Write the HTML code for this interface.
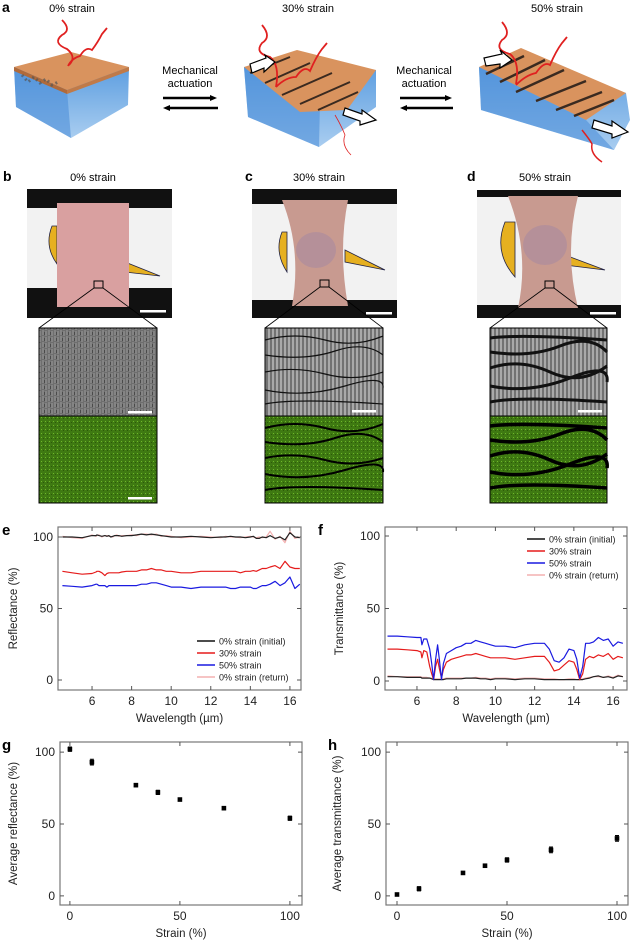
<!DOCTYPE html>
<html><head><meta charset="utf-8"><style>
html,body{margin:0;padding:0;background:#fff;}
svg{display:block;font-family:"Liberation Sans",Arial,sans-serif;}
</style></head><body>
<svg id="fig" width="630" height="940" viewBox="0 0 630 940">
<defs>
<pattern id="sem0" width="6" height="6" patternUnits="userSpaceOnUse"><rect width="6" height="6" fill="#6e6e6e"/><path d="M1 0v5M4 1v5" stroke="#9a9a9a" stroke-width="1"/><path d="M2.5 2v3" stroke="#4a4a4a"/></pattern>
<pattern id="semc" width="4" height="8" patternUnits="userSpaceOnUse"><rect width="4" height="8" fill="#8a8a8a"/><path d="M1 0v8" stroke="#c8c8c8" stroke-width="1"/><path d="M3 0v8" stroke="#5a5a5a" stroke-width="1"/></pattern>
<pattern id="eds" width="4" height="4" patternUnits="userSpaceOnUse"><rect width="4" height="4" fill="#3f7a12"/><rect x="1" y="1" width="1" height="1" fill="#6fb82a"/><rect x="3" y="2" width="1" height="1" fill="#2c5a08"/></pattern>
<linearGradient id="blue" x1="0" y1="0" x2="0" y2="1"><stop offset="0" stop-color="#5d9ee0"/><stop offset="1" stop-color="#a9cdf0"/></linearGradient>
</defs>

<!-- Panel a -->
<g>
<text x="2" y="12" font-size="14" font-weight="bold">a</text>
<text x="72" y="12" font-size="11" text-anchor="middle">0% strain</text>
<text x="308" y="12" font-size="11" text-anchor="middle">30% strain</text>
<text x="557" y="12" font-size="11" text-anchor="middle">50% strain</text>
<g>
<polygon points="14,67 129,67 128,105 71,138 16,107" fill="url(#blue)"/>
<polygon points="14,67 67,90 71,138 16,107" fill="#4f8fd8" opacity="0.6"/>
<polygon points="14,67 71,52 129,67 67,90" fill="#d9935e"/>
<polygon points="14,67 67,90 67,94 14,71" fill="#b06a3a"/><polygon points="67,90 129,67 129,71 67,94" fill="#c07a48"/>
<path d="M22 75 l6 7 l6 -5 l6 6 l6 -4 l6 6 l6 -3" stroke="#555" stroke-width="3" fill="none" stroke-dasharray="2 3" opacity="0.7"/>
<path d="M62 20 q10 10 0 15 q-10 8 5 14 q10 8 2 16 M68 66 q4 -8 12 -10 q6 -10 12 -6 q6 -8 10 -16 l5 -6" stroke="#e02020" stroke-width="1.8" fill="none"/>
</g>
<g>
<text x="190" y="74" font-size="11" text-anchor="middle">Mechanical</text>
<text x="190" y="87" font-size="11" text-anchor="middle">actuation</text>
<path d="M163 98h50" stroke="#000" stroke-width="2.5"/><path d="M217 98l-7 -3v6z" fill="#000"/>
<path d="M168 108h50" stroke="#000" stroke-width="2.5"/><path d="M163 108l7 -3v6z" fill="#000"/>
</g>
<g>
<polygon points="244,67 376,70 376,107 319,147 248,117" fill="url(#blue)"/>
<polygon points="244,67 320,100 319,147 248,117" fill="#4f8fd8" opacity="0.6"/>
<polygon points="244,67 297,50 376,70 347,110 300,112" fill="#d9935e"/>
<path d="M250 73 l40 -16 M265 83 l45 -20 M282 95 l50 -22 M300 104 l50 -22 M318 110 l40 -18" stroke="#3a2a20" stroke-width="2"/>
<path d="M262 25 q10 12 0 18 q-8 10 8 14 q10 8 6 30 M276 87 q10 -10 20 -10 q8 -12 14 -6 q6 -14 12 -22 l5 -6" stroke="#e02020" stroke-width="1.8" fill="none"/>
<polygon points="250,64 266,58 265,55 275,62 264,72 264,68 252,73" fill="#fff" stroke="#000" stroke-width="1.2"/>
<polygon points="345,108 362,114 362,110 376,120 360,125 360,121 343,115" fill="#fff" stroke="#000" stroke-width="1.2"/>
<path d="M335 115 q6 10 10 20 q-4 10 6 20" stroke="#e02020" stroke-width="0.8" fill="none"/>
</g>
<g>
<text x="424" y="74" font-size="11" text-anchor="middle">Mechanical</text>
<text x="424" y="87" font-size="11" text-anchor="middle">actuation</text>
<path d="M400 98h48" stroke="#000" stroke-width="2.5"/><path d="M452 98l-7 -3v6z" fill="#000"/>
<path d="M405 108h48" stroke="#000" stroke-width="2.5"/><path d="M400 108l7 -3v6z" fill="#000"/>
</g>
<g>
<polygon points="479,67 626,93 630,120 614,150 481,110" fill="url(#blue)"/>
<polygon points="479,67 586,120 614,150 481,110" fill="#4f8fd8" opacity="0.6"/>
<polygon points="479,67 521,48 626,93 586,120" fill="#d9935e"/>
<path d="M486 74 l38 -18 M500 82 l45 -22 M516 92 l48 -22 M536 101 l50 -20 M556 110 l46 -18 M574 116 l40 -16" stroke="#3a2a20" stroke-width="2.5"/>
<path d="M502 22 q10 12 0 18 q-8 10 8 14 q10 8 6 30 M516 85 q10 -10 20 -12 q8 -12 14 -8 q6 -14 12 -22 l5 -6" stroke="#e02020" stroke-width="1.8" fill="none"/>
<polygon points="484,58 502,54 500,50 512,60 500,68 500,64 486,66" fill="#fff" stroke="#000" stroke-width="1.2"/>
<polygon points="594,120 612,126 612,121 628,132 612,138 612,134 592,128" fill="#fff" stroke="#000" stroke-width="1.2"/>
<path d="M582 130 q8 10 10 14 q-2 10 10 18" stroke="#e02020" stroke-width="1.5" fill="none"/>
</g>
</g>

<!-- Panels b-d -->
<g>
<text x="3" y="181" font-size="14" font-weight="bold">b</text>
<text x="93" y="181" font-size="11" text-anchor="middle">0% strain</text>
<rect x="27" y="189" width="145" height="129" fill="#111"/>
<rect x="27" y="208" width="145" height="80" fill="#f2f2f2"/>
<path d="M52 226 q-8 20 5 38 l0 -38z" fill="#e6b020" stroke="#224" stroke-width="0.8"/>
<path d="M125 262 l35 14 l-35 -4z" fill="#e6b020" stroke="#224" stroke-width="0.8"/>
<rect x="57" y="203" width="72" height="104" fill="#d9a0a0"/>
<rect x="94" y="281" width="9" height="7" fill="none" stroke="#000"/>
<rect x="140" y="310" width="26" height="2.5" fill="#fff"/>
<path d="M94 288 L39 328 M103 288 L157 328" stroke="#000" stroke-width="0.8"/>
<rect x="39" y="328" width="118" height="88" fill="url(#sem0)" stroke="#000"/>
<rect x="128" y="411" width="24" height="2.5" fill="#fff"/>
<rect x="39" y="416" width="118" height="87" fill="url(#eds)" stroke="#000"/>
<rect x="128" y="497" width="24" height="2.5" fill="#fff"/>
</g>
<g>
<text x="245" y="181" font-size="14" font-weight="bold">c</text>
<text x="319" y="181" font-size="11" text-anchor="middle">30% strain</text>
<rect x="252" y="189" width="145" height="129" fill="#111"/>
<rect x="252" y="204" width="145" height="96" fill="#f2f2f2"/>
<path d="M282 232 q-8 20 5 40 l0 -40z" fill="#e6b020" stroke="#224" stroke-width="0.8"/>
<path d="M345 250 l40 20 l-40 -8z" fill="#e6b020" stroke="#224" stroke-width="0.8"/>
<path d="M282 200 h66 q-10 50 0 106 h-56 q10 -56 -10 -106z" fill="#c89a90"/>
<ellipse cx="316" cy="250" rx="20" ry="18" fill="#a88aa0" opacity="0.6"/>
<rect x="320" y="280" width="9" height="7" fill="none" stroke="#000"/>
<rect x="366" y="312" width="26" height="2.5" fill="#fff"/>
<path d="M320 287 L265 328 M329 287 L383 328" stroke="#000" stroke-width="0.8"/>
<rect x="265" y="328" width="118" height="88" fill="url(#semc)" stroke="#000"/>
<path d="M265 340 q30 -8 60 0 t58 -4 M265 355 q40 6 70 -4 t48 4 M265 372 q30 -6 60 2 t58 -2 M265 390 q40 8 80 -4 t38 2 M265 404 q30 -6 118 0" stroke="#111" stroke-width="1.2" fill="none"/>
<rect x="352" y="410" width="24" height="2.5" fill="#fff"/>
<rect x="265" y="416" width="118" height="87" fill="url(#eds)" stroke="#000"/>
<path d="M265 428 q30 -8 60 0 t58 -4 M265 442 q40 6 70 -4 t48 4 M265 458 q30 -6 60 2 t58 -2 M265 474 q40 8 80 -4 t38 2 M265 490 q30 -6 118 0" stroke="#000" stroke-width="2" fill="none"/>
</g>
<g>
<text x="467" y="181" font-size="14" font-weight="bold">d</text>
<text x="545" y="181" font-size="11" text-anchor="middle">50% strain</text>
<rect x="477" y="190" width="144" height="128" fill="#111"/>
<rect x="477" y="197" width="144" height="108" fill="#f2f2f2"/>
<path d="M505 222 q-12 30 10 55 l0 -55z" fill="#e6b020" stroke="#224" stroke-width="0.8"/>
<path d="M565 255 l40 15 l-40 -5z" fill="#e6b020" stroke="#224" stroke-width="0.8"/>
<path d="M508 196 h70 q-14 55 0 112 h-60 q12 -56 -10 -112z" fill="#c89a90"/>
<ellipse cx="545" cy="245" rx="22" ry="20" fill="#a88aa0" opacity="0.6"/>
<rect x="545" y="281" width="9" height="7" fill="none" stroke="#000"/>
<rect x="590" y="312" width="26" height="2.5" fill="#fff"/>
<path d="M545 288 L490 328 M554 288 L607 328" stroke="#000" stroke-width="0.8"/>
<rect x="490" y="328" width="117" height="88" fill="url(#semc)" stroke="#000"/>
<path d="M490 338 q30 -4 117 2 M490 352 q40 6 70 -6 t47 6 M490 368 q30 -10 60 4 t57 -6 M490 386 q40 8 80 -8 t37 4 M490 402 q30 -6 117 0" stroke="#111" stroke-width="3" fill="none"/>
<rect x="578" y="410" width="24" height="2.5" fill="#fff"/>
<rect x="490" y="416" width="117" height="87" fill="url(#eds)" stroke="#000"/>
<path d="M490 426 q30 -4 117 2 M490 440 q40 6 70 -6 t47 6 M490 456 q30 -10 60 4 t57 -6 M490 472 q40 8 80 -8 t37 4 M490 488 q30 -6 117 0" stroke="#000" stroke-width="3.5" fill="none"/>
</g>

<g id="charts"></g>
</svg>
<script>
const wavelengths=[4.5,5,5.5,6,6.2,6.25,6.35,6.5,6.65,6.75,6.85,6.95,7.05,7.15,7.25,7.35,7.5,7.75,8,8.25,8.5,8.75,9,9.25,9.5,9.75,10,10.5,11,11.5,12,12.5,12.75,13,13.25,13.5,13.75,14,14.15,14.3,14.45,14.6,14.8,15,15.25,15.5,15.75,16,16.25,16.5];
const reflInitial=[100,100,99.5,101,101,101.5,101,100.5,101,100.5,101,100,100.5,101,101,101,100.5,101,101,101.5,102,101.5,102,101.5,101,100.5,100,100,100.5,100,99.5,100,100,100.5,100,100,99.5,100,100.5,99,99,100,99.5,101,99,100,98,103,100,99.5];
const refl30=[76,75,74,74.5,75.5,76,76,75,73,74.5,75,75,75,75,75,75,75.5,76,76,76,77,77,78,77,77,76,76,75,75,76,76,76,76,76,76,75,76,76,76.5,76,77,78,78,79,80,78,83,79,78,78];
const refl50=[66,65.5,65,66,67,67,66,66,66,65,66,66,66,66,66,66,66,66,66,66,67,67,68,68,67,66,65,65,64,65,65,65,65,64,64,65,65,65,64,64,65,66,66,67,69,66,68,72,64,67];
const reflReturn=[100.5,99.5,99,101.5,100.5,101,101.5,100,101,101,100.5,100.5,100,101,101.5,100.5,101,101,101.5,101,102,102,101.5,102,100.5,101,100.5,99.5,100,100.5,100,99.5,100.5,100,100,99.5,100,100.5,100,99.5,100,99.5,100,104,98.5,100.5,96,104,99,100];
const transInitial=[3,3,2.5,2.5,2.5,2,2,2,2,1.5,1,1,1,1,1,1,1.5,1.5,1.5,1.5,2,2,2,1.5,1.5,1,1.5,1.5,1,1.5,1.5,1,1,1,1,1,1,1,1,1,1,1.5,2,3,3.5,2.5,3,2,3.5,3];
const trans30=[22,22,21.5,21,20,16,21,20,10,5,1,10,15,8,2,8,13,15,16,17,18,18,19,18,17,16,16,16,15,16,17,17,13,7,8,11,14,13,8,1,5,15,17,16,18,17,19,15,17,16];
const trans50=[31,31,30.5,30,30,25,29,29,22,12,1,15,25,14,1,12,19,21,23,24,26,26,28,27,26,25,24,24,23,25,26,26,22,14,13,16,22,21,15,2,10,26,26,27,30,28,29,24,27,26];
const transReturn=[3.5,3,3,3,3,2.5,2.5,2.5,2,2,1.5,1.5,1.5,1.5,1.5,1.5,2,2,2,2,2,2,2.5,2,2,1.5,2,2,1.5,2,2,1.5,1.5,1.5,1,1,1.5,1.5,1,1,1.5,2,2.5,3,3,2.5,3.5,2.5,4,3];
const strains=[0,10,30,40,50,70,100];
const avgRefl=[102,93,77,72,67,61,54];
const avgReflErr=[1.5,2,1,1.5,1,1,1.5];
const avgTrans=[1,5,16,21,25,32,40];
const avgTransErr=[1,1.5,1,1,1.5,2,2];
const wlTicks=[6,8,10,12,14,16];
const pctTicks=[0,50,100];
const strainTicks=[0,50,100];
const legendLabels=["0% strain (initial)","30% strain","50% strain","0% strain (return)"];
const legendColors=["#111","#e51b1b","#1a1ae0","#f4b0b0"];

const NS="http://www.w3.org/2000/svg";
const root=document.getElementById('charts');
function el(tag,attrs,parent){const e=document.createElementNS(NS,tag);for(const k in attrs)e.setAttribute(k,attrs[k]);(parent||root).appendChild(e);return e;}

function axes(o){
  const g=el('g',{});
  
  
  const sx=v=>o.L+(v-o.x0)/(o.x1-o.x0)*(o.R-o.L);
  const sy=v=>o.B-(v-o.y0)/(o.y1-o.y0)*(o.B-o.T);
  const fr=el('rect',{x:o.L,y:o.T,width:o.R-o.L,height:o.B-o.T,fill:'none',stroke:'#777','stroke-width':1.2},g);
  
  
  o.xt.forEach(v=>{const x=sx(v);
    el('path',{d:`M${x} ${o.B}v-4M${x} ${o.T}v4`,stroke:'#555'},g);
    const t=el('text',{x:x,y:o.B+15,'font-size':12,'text-anchor':'middle',fill:'#222'},g);t.textContent=v;
    
    });
  o.yt.forEach(v=>{const y=sy(v);
    el('path',{d:`M${o.L} ${y}h4M${o.R} ${y}h-4`,stroke:'#555'},g);
    const t=el('text',{x:o.L-5,y:y+4,'font-size':12,'text-anchor':'end',fill:'#222'},g);t.textContent=v;
    
    });
  const xl=el('text',{x:(o.L+o.R)/2,y:o.B+32,'font-size':11.5,'text-anchor':'middle',fill:'#222'},g);xl.textContent=o.xlabel;
  
  
  const cy=(o.T+o.B)/2;
  const yl=el('text',{x:o.ylx,y:cy,'font-size':11.5,'text-anchor':'middle',fill:'#222',transform:`rotate(-90 ${o.ylx} ${cy})`},g);yl.textContent=o.ylabel;
  
  
  const pl=el('text',{x:o.plx,y:o.T+8,'font-size':15,'font-weight':'bold'},g);pl.textContent=o.letter;
  
  
  return {g,sx,sy};
}
function line(ax,xs,ys,color,name,w){
  const d=xs.map((x,i)=>(i?'L':'M')+ax.sx(x).toFixed(1)+' '+ax.sy(ys[i]).toFixed(1)).join('');
  const p=el('path',{d:d,fill:'none',stroke:color,'stroke-width':w||1.2,'stroke-linejoin':'round'},ax.g);
  
  
}
function legend(ax,x,y){
  legendLabels.forEach((lab,i)=>{
    const g=el('g',{},ax.g);
    
    
    el('path',{d:`M${x} ${y+i*12}h18`,stroke:legendColors[i],'stroke-width':1.5},g);
    const t=el('text',{x:x+22,y:y+i*12+3.5,'font-size':9,fill:'#222'},g);t.textContent=lab;
  });
}
function scatter(ax,xs,ys,es,name){
  xs.forEach((x,i)=>{
    const g=el('g',{},ax.g);
    
    
    const cx=ax.sx(x),cy=ax.sy(ys[i]),e1=ax.sy(ys[i]+es[i]),e2=ax.sy(ys[i]-es[i]);
    el('path',{d:`M${cx} ${e1}V${e2}M${cx-2} ${e1}h4M${cx-2} ${e2}h4`,stroke:'#000','stroke-width':1},g);
    el('rect',{x:cx-2.3,y:cy-2.3,width:4.6,height:4.6,fill:'#000'},g);
  });
}

const e=axes({name:'chart-reflectance',L:58,R:301,T:527,B:690,x0:4.28,x1:16.56,y0:-7,y1:107,xt:wlTicks,yt:pctTicks,xlabel:'Wavelength (\u00b5m)',ylabel:'Reflectance (%)',ylx:17,plx:2,letter:'e'});
line(e,wavelengths,reflReturn,'#f4b0b0','series-refl-return');
line(e,wavelengths,reflInitial,'#222','series-refl-initial');
line(e,wavelengths,refl30,'#e51b1b','series-refl-30');
line(e,wavelengths,refl50,'#1a1ae0','series-refl-50');
legend(e,197,641);

const f=axes({name:'chart-transmittance',L:385,R:627,T:527,B:690,x0:4.37,x1:16.71,y0:-6.2,y1:106.2,xt:wlTicks,yt:pctTicks,xlabel:'Wavelength (\u00b5m)',ylabel:'Transmittance (%)',ylx:343,plx:318,letter:'f'});
line(f,wavelengths,transReturn,'#f4b0b0','series-trans-return');
line(f,wavelengths,transInitial,'#222','series-trans-initial');
line(f,wavelengths,trans30,'#e51b1b','series-trans-30');
line(f,wavelengths,trans50,'#1a1ae0','series-trans-50');
legend(f,527,539);

const gch=axes({name:'chart-avg-reflectance',L:60,R:302,T:742,B:905,x0:-4.5,x1:105.5,y0:-6.3,y1:107,xt:strainTicks,yt:pctTicks,xlabel:'Strain (%)',ylabel:'Average reflectance (%)',ylx:17,plx:2,letter:'g'});
scatter(gch,strains,avgRefl,avgReflErr,'point-avg-reflectance');

const h=axes({name:'chart-avg-transmittance',L:386,R:628,T:742,B:905,x0:-5,x1:105,y0:-6.3,y1:107,xt:strainTicks,yt:pctTicks,xlabel:'Strain (%)',ylabel:'Average transmittance (%)',ylx:341,plx:328,letter:'h'});
scatter(h,strains,avgTrans,avgTransErr,'point-avg-transmittance');
</script>
</body></html>
